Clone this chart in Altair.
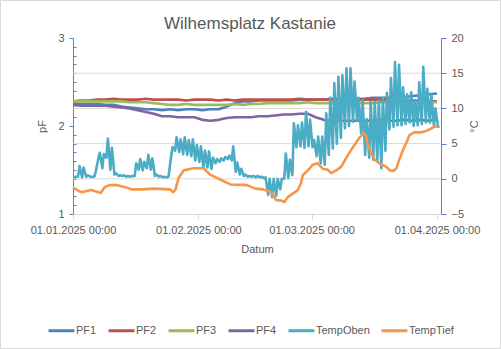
import altair as alt
import pandas as pd
from datetime import datetime, timezone

# ---------------- data ----------------
title_text = "Wilhemsplatz Kastanie"
series_names = ["PF1", "PF2", "PF3", "PF4", "TempOben", "TempTief"]
series_colors = ["#4F81BD", "#C0504D", "#9BBB59", "#8064A2", "#4BACC6", "#F79646"]

# pF series, one value every 2 days from 01.01.2025
pf_step_days = 2
pf1 = [2.25, 2.25, 2.25, 2.25, 2.24, 2.24, 2.22, 2.21, 2.20, 2.19, 2.19, 2.18, 2.19, 2.18, 2.19, 2.19,
       2.18, 2.19, 2.19, 2.22, 2.26, 2.28, 2.28, 2.29, 2.29, 2.29, 2.29, 2.29, 2.30, 2.30, 2.30, 2.30,
       2.31, 2.31, 2.31, 2.31, 2.31, 2.32, 2.32, 2.32, 2.33, 2.33, 2.34, 2.35, 2.36, 2.37]
pf2 = [2.28, 2.29, 2.29, 2.30, 2.30, 2.31, 2.30, 2.30, 2.30, 2.31, 2.30, 2.30, 2.30, 2.30, 2.29, 2.30,
       2.30, 2.30, 2.29, 2.30, 2.29, 2.30, 2.30, 2.30, 2.30, 2.30, 2.30, 2.30, 2.31, 2.30, 2.30, 2.30,
       2.30, 2.30, 2.30, 2.30, 2.30, 2.30, 2.30, 2.30, 2.29, 2.29, 2.29, 2.28, 2.28, 2.28]
pf3 = [2.28, 2.28, 2.28, 2.28, 2.28, 2.28, 2.28, 2.27, 2.27, 2.27, 2.26, 2.25, 2.24, 2.24, 2.25, 2.24,
       2.24, 2.24, 2.24, 2.24, 2.25, 2.24, 2.25, 2.25, 2.26, 2.26, 2.26, 2.26, 2.26, 2.27, 2.26, 2.26,
       2.26, 2.27, 2.27, 2.26, 2.26, 2.26, 2.27, 2.27, 2.27, 2.27, 2.26, 2.27, 2.27, 2.27]
pf4 = [2.24, 2.23, 2.23, 2.23, 2.23, 2.22, 2.21, 2.20, 2.18, 2.16, 2.14, 2.11, 2.11, 2.10, 2.10, 2.10,
       2.07, 2.06, 2.07, 2.09, 2.10, 2.10, 2.10, 2.11, 2.11, 2.12, 2.13, 2.13, 2.14, 2.14, 2.10, 2.07,
       2.06, 2.06, 2.06, 2.06, 2.06, 2.06, 2.07, 2.06, 2.06, 2.07, 2.06, 2.07, 2.06, 2.08]

# TempOben: daily minimum and maximum (°C), days 0..90 from 01.01.2025
oben_min = [0.1, 0.3, 0.2, 0.3, 0.3, 0.3, 2.8, 1.5, 3.0, 1.3, 0.6, 0.4, 0.4, 0.3, 0.3, 0.4, 1.3, 1.2, 1.5, 1.3,
            0.4, 0.3, 0.2, 0.2, 3.1, 4.0, 3.8, 3.5, 3.4, 3.2, 2.6, 2.4, 1.6, 1.6, 1.4, 2.2, 2.4, 2.6, 2.8, 2.6,
            1.0, 0.6, 0.4, 0.3, 0.3, 0.2, 0.2, 0.1, -2.3, -2.6, -2.4, -1.5, 0.0, 0.1, 0.5, 4.5, 4.6, 4.4, 4.6, 4.5,
            3.2, 2.2, 2.0, 3.4, 4.3, 5.0, 5.8, 7.2, 7.5, 8.1, 8.2, 6.5, 3.4, 3.0, 2.7, 2.5, 1.5, 4.0, 7.0, 7.4,
            7.6, 7.6, 7.8, 8.0, 7.5, 7.6, 7.8, 8.0, 8.0, 7.6, 7.4]
oben_max = [0.3, 1.8, 1.6, 0.5, 0.3, 1.0, 3.7, 3.5, 5.7, 4.4, 0.8, 0.5, 0.5, 0.4, 0.4, 2.2, 2.8, 2.4, 3.4, 2.9,
            0.6, 0.4, 0.3, 0.3, 4.5, 5.9, 5.6, 5.9, 5.5, 5.6, 4.8, 4.6, 4.0, 3.9, 3.0, 2.8, 2.9, 3.1, 3.3, 4.6,
            2.3, 1.4, 0.6, 0.4, 0.4, 0.4, 0.3, 0.2, 0.0, 0.0, 0.0, 0.0, 3.6, 2.7, 7.9, 7.6, 8.0, 9.5, 8.4, 5.5,
            6.0, 6.0, 9.3, 11.5, 13.6, 14.5, 14.7, 15.7, 15.7, 13.8, 11.5, 11.2, 8.5, 10.9, 10.9, 11.2, 11.5, 12.2, 14.3, 16.6,
            16.2, 13.0, 12.0, 12.3, 11.2, 13.7, 15.9, 12.8, 11.9, 10.0, 7.4]

# TempTief: (day since 01.01.2025, °C)
tief_day = [0, 2, 4.5, 6.9, 7.8, 9, 11, 13, 14.5, 17, 20, 24, 24.7, 25.3, 26.1, 27.4, 29.8, 32.3, 33.9, 36.4,
            38.9, 43, 45.1, 47, 49, 50.2, 51.5, 52.3, 53.1, 55.6, 56.4, 56.8, 58.1, 59.3, 60.5, 61.8, 63, 63.8,
            65.1, 66.3, 68, 69.6, 70.9, 72.1, 72.5, 72.9, 73.8, 74.6, 75.8, 77.5, 78.3, 79.1, 79.9, 80.8, 81.6,
            82.4, 83.2, 84.4, 86.1, 87.3, 88.1, 89.4, 90.2]
tief_val = [-1.3, -1.9, -1.6, -2.0, -1.2, -0.9, -0.9, -1.2, -1.5, -1.5, -1.4, -1.5, -1.9, -1.6, 0.1, 1.2, 1.5, 1.5, 0.6, -0.1,
            -0.8, -0.9, -1.4, -1.5, -1.9, -3.0, -3.1, -3.3, -2.6, -1.6, -0.6, 0.5, 1.2, 2.0, 2.2, 1.4, 1.3, 0.8,
            1.2, 1.7, 3.4, 4.8, 5.9, 6.5, 6.0, 4.8, 3.6, 2.7, 2.2, 1.7, 1.2, 1.1, 1.4, 2.9, 4.1,
            5.1, 6.2, 6.6, 6.6, 6.8, 7.0, 7.4, 7.5]

pf_ticks = [1, 2, 3]
temp_ticks = [-5, 0, 5, 10, 15, 20]
temp_grid = [0, 5, 10, 15]

# ---------------- build tables ----------------
DAY_MS = 86400000
BASE = datetime(2025, 1, 1, tzinfo=timezone.utc).timestamp() * 1000


def t(day):
    return BASE + day * DAY_MS


pf_rows = []
for name, arr in zip(["PF1", "PF2", "PF3", "PF4"], [pf1, pf2, pf3, pf4]):
    for i, v in enumerate(arr):
        pf_rows.append({"t": t(i * pf_step_days), "series": name, "value": v})
pf_df = pd.DataFrame(pf_rows)

temp_rows = []
order = 0
for d, (lo, hi) in enumerate(zip(oben_min, oben_max)):
    temp_rows.append({"t": t(d + 0.25), "series": "TempOben", "value": lo, "o": order}); order += 1
    temp_rows.append({"t": t(d + 0.62), "series": "TempOben", "value": hi, "o": order}); order += 1
for d, v in zip(tief_day, tief_val):
    temp_rows.append({"t": t(d), "series": "TempTief", "value": v, "o": order}); order += 1
temp_df = pd.DataFrame(temp_rows)

grid_df = pd.DataFrame({"v": temp_grid})
minor_vals = [round(1 + i / 10, 1) for i in range(1, 20) if i != 10]

# ---------------- chart ----------------
W, H = 368, 176
FONT = "Liberation Sans"
TXT = "#595959"
AXIS_BLUE = "#5585C2"

x_dom = [alt.DateTime(year=2025, month=1, date=1, utc=True),
         alt.DateTime(year=2025, month=4, date=2, utc=True)]
x_vals = [alt.DateTime(year=2025, month=m, date=1, utc=True) for m in [1, 2, 3, 4]]
x_scale = alt.Scale(type="utc", domain=x_dom, nice=False)
x_axis = alt.Axis(values=x_vals, labelExpr="utcFormat(datum.value, '%d.%m.%Y %H:%M')", title="Datum",
                  labelOverlap=False, labelFlush=False, labelBound=False,
                  domainColor="#d9d9d9", tickColor="#d9d9d9", tickSize=5, labelPadding=5,
                  titlePadding=8, grid=False)
x_enc = alt.X("t:T", scale=x_scale, axis=x_axis)

color = alt.Color("series:N",
                  scale=alt.Scale(domain=series_names, range=series_colors),
                  legend=alt.Legend(title=None, orient="none", direction="horizontal",
                                    legendX=-26, legendY=278, symbolType="stroke",
                                    symbolSize=676, symbolStrokeWidth=3, labelFontSize=11,
                                    labelColor=TXT, labelFont=FONT, columnPadding=5,
                                    labelOffset=0, padding=0))

pf_scale = alt.Scale(domain=[1, 3], nice=False, zero=False)
temp_scale = alt.Scale(domain=[-5, 20], nice=False, zero=False)

one_row = pd.DataFrame({"k": [0]})

border = alt.Chart(one_row).mark_rect(
    fill=None, stroke="#d9d9d9", strokeWidth=1
).encode(x=alt.value(-72.5), x2=alt.value(W + 59.5), y=alt.value(-37.5), y2=alt.value(H + 134.5))

title = alt.Chart(one_row).mark_text(
    fontSize=17, color=TXT, font=FONT, align="center", baseline="alphabetic"
).encode(x=alt.value(W / 2 - 7), y=alt.value(-9), text=alt.value(title_text))

grid = alt.Chart(grid_df).mark_rule(color="#d9d9d9", strokeWidth=1).encode(
    y=alt.Y("v:Q", scale=temp_scale, axis=None)
)

pf_lines = alt.Chart(pf_df).mark_line(strokeWidth=2.6, strokeJoin="round").encode(
    x=x_enc,
    y=alt.Y("value:Q", scale=pf_scale,
            axis=alt.Axis(orient="left", values=pf_ticks, labelExpr="format(datum.value, 'd')",
                          labelOverlap=False, labelBound=False, labelFlush=False,
                          title="pF", grid=False,
                          domainColor=AXIS_BLUE, tickColor=AXIS_BLUE, tickSize=4,
                          labelPadding=5, titleX=-31, titleY=H / 2, titleAngle=270,
                          titleAlign="center", titleBaseline="middle")),
    color=color,
)

minor = alt.Chart(pf_df).mark_line(strokeOpacity=0).encode(
    x=x_enc,
    y=alt.Y("value:Q", scale=pf_scale,
            axis=alt.Axis(orient="right", offset=-W, values=minor_vals, labels=False, domain=False,
                          tickColor=AXIS_BLUE, tickSize=3, title=None, grid=False)),
    detail="series:N",
)

temp_lines = alt.Chart(temp_df).mark_line(strokeWidth=2.6, strokeJoin="round").encode(
    x=x_enc,
    y=alt.Y("value:Q", scale=temp_scale,
            axis=alt.Axis(orient="right", values=temp_ticks, title="°C", grid=False,
                          labelOverlap=False, labelFlush=False,
                          domainColor=AXIS_BLUE, tickColor=AXIS_BLUE, tickSize=5,
                          labelPadding=5, titleX=33, titleY=H / 2, titleAngle=270,
                          titleAlign="center", titleBaseline="middle")),
    color=color,
    order="o:Q",
)

chart = alt.layer(border, title, grid, pf_lines, minor, temp_lines).resolve_scale(
    y="independent"
).properties(
    width=W, height=H,
    autosize=alt.AutoSizeParams(type="none"),
    padding={"left": 73, "top": 38, "right": 60, "bottom": 135},
).configure(
    font=FONT,
).configure_axis(
    labelFont=FONT, titleFont=FONT, labelFontSize=11, titleFontSize=11,
    labelColor=TXT, titleColor=TXT, titleFontWeight="normal",
).configure_view(stroke=None)

chart.save("out.html", embed_options={"renderer": "svg", "actions": False})
